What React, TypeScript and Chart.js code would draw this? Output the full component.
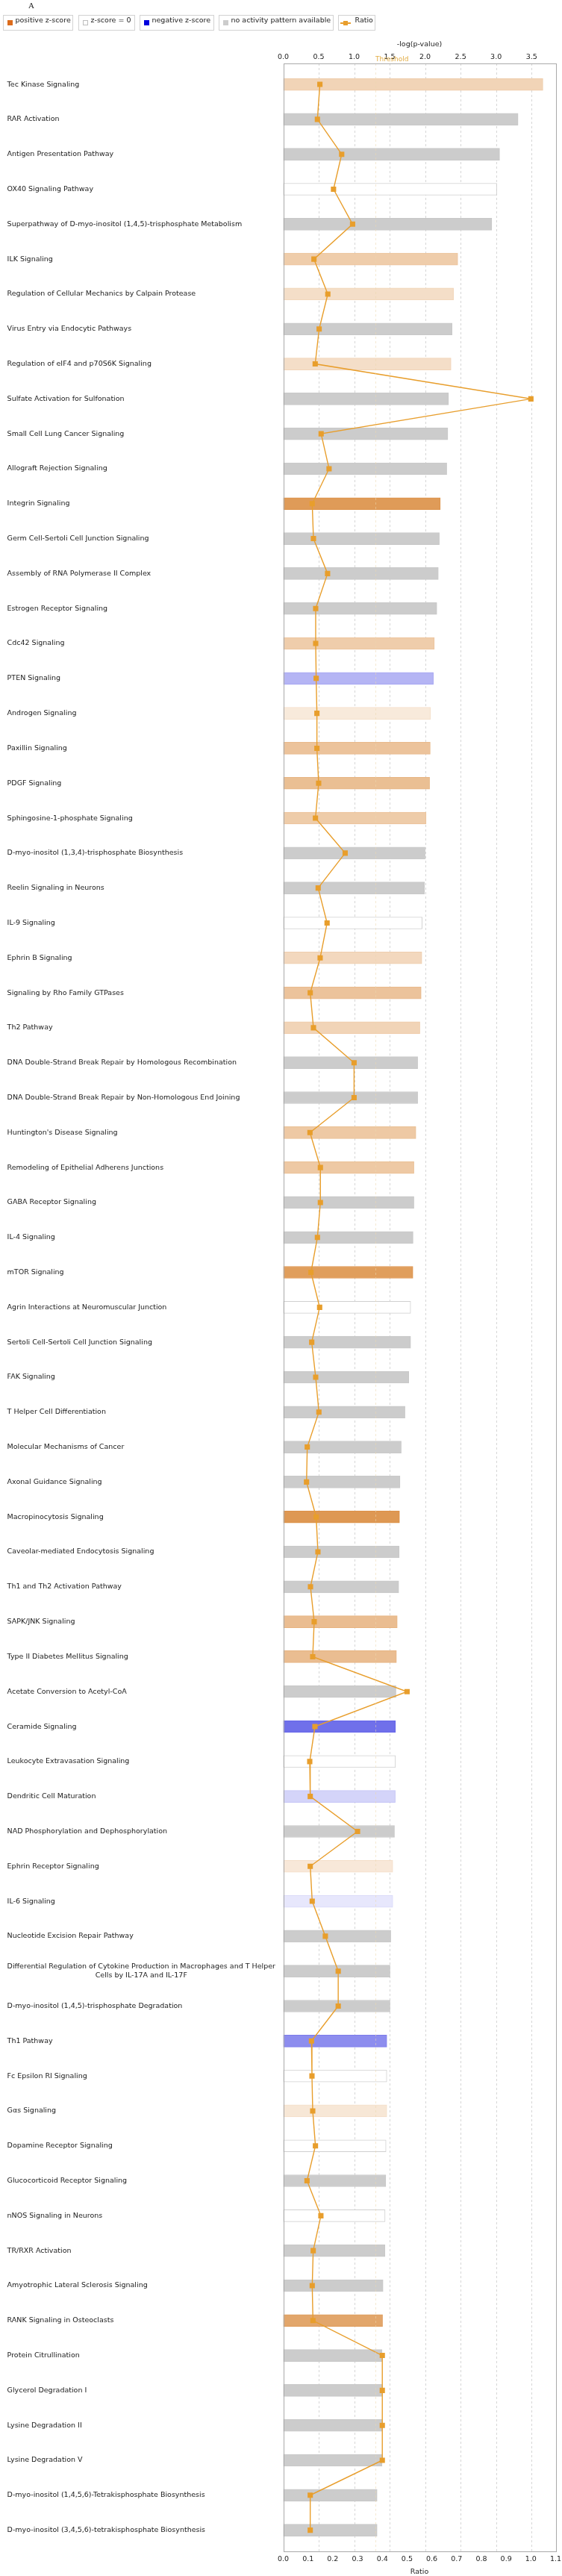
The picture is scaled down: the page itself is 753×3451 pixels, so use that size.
import React, { useEffect, useRef } from "react";
import { Chart, registerables } from "chart.js";

Chart.register(...registerables);

// ---------------- DATA ----------------
const categories: (string | string[])[] = [
  "Tec Kinase Signaling",
  "RAR Activation",
  "Antigen Presentation Pathway",
  "OX40 Signaling Pathway",
  "Superpathway of D-myo-inositol (1,4,5)-trisphosphate Metabolism",
  "ILK Signaling",
  "Regulation of Cellular Mechanics by Calpain Protease",
  "Virus Entry via Endocytic Pathways",
  "Regulation of eIF4 and p70S6K Signaling",
  "Sulfate Activation for Sulfonation",
  "Small Cell Lung Cancer Signaling",
  "Allograft Rejection Signaling",
  "Integrin Signaling",
  "Germ Cell-Sertoli Cell Junction Signaling",
  "Assembly of RNA Polymerase II Complex",
  "Estrogen Receptor Signaling",
  "Cdc42 Signaling",
  "PTEN Signaling",
  "Androgen Signaling",
  "Paxillin Signaling",
  "PDGF Signaling",
  "Sphingosine-1-phosphate Signaling",
  "D-myo-inositol (1,3,4)-trisphosphate Biosynthesis",
  "Reelin Signaling in Neurons",
  "IL-9 Signaling",
  "Ephrin B Signaling",
  "Signaling by Rho Family GTPases",
  "Th2 Pathway",
  "DNA Double-Strand Break Repair by Homologous Recombination",
  "DNA Double-Strand Break Repair by Non-Homologous End Joining",
  "Huntington's Disease Signaling",
  "Remodeling of Epithelial Adherens Junctions",
  "GABA Receptor Signaling",
  "IL-4 Signaling",
  "mTOR Signaling",
  "Agrin Interactions at Neuromuscular Junction",
  "Sertoli Cell-Sertoli Cell Junction Signaling",
  "FAK Signaling",
  "T Helper Cell Differentiation",
  "Molecular Mechanisms of Cancer",
  "Axonal Guidance Signaling",
  "Macropinocytosis Signaling",
  "Caveolar-mediated Endocytosis Signaling",
  "Th1 and Th2 Activation Pathway",
  "SAPK/JNK Signaling",
  "Type II Diabetes Mellitus Signaling",
  "Acetate Conversion to Acetyl-CoA",
  "Ceramide Signaling",
  "Leukocyte Extravasation Signaling",
  "Dendritic Cell Maturation",
  "NAD Phosphorylation and Dephosphorylation",
  "Ephrin Receptor Signaling",
  "IL-6 Signaling",
  "Nucleotide Excision Repair Pathway",
  [
    "Differential Regulation of Cytokine Production in Macrophages and T Helper",
    "Cells by IL-17A and IL-17F",
  ],
  "D-myo-inositol (1,4,5)-trisphosphate Degradation",
  "Th1 Pathway",
  "Fc Epsilon RI Signaling",
  "Gαs Signaling",
  "Dopamine Receptor Signaling",
  "Glucocorticoid Receptor Signaling",
  "nNOS Signaling in Neurons",
  "TR/RXR Activation",
  "Amyotrophic Lateral Sclerosis Signaling",
  "RANK Signaling in Osteoclasts",
  "Protein Citrullination",
  "Glycerol Degradation I",
  "Lysine Degradation II",
  "Lysine Degradation V",
  "D-myo-inositol (1,4,5,6)-Tetrakisphosphate Biosynthesis",
  "D-myo-inositol (3,4,5,6)-tetrakisphosphate Biosynthesis",
];

// -log(p-value)
const negLogP: number[] = [
  3.66, 3.31, 3.05, 3.01, 2.94, 2.46, 2.4, 2.38, 2.365, 2.33, 2.32, 2.305,
  2.214, 2.2, 2.186, 2.165, 2.13, 2.116, 2.075, 2.072, 2.063, 2.014, 2.0, 1.99,
  1.958, 1.954, 1.944, 1.926, 1.895, 1.895, 1.87, 1.842, 1.842, 1.83, 1.828, 1.796,
  1.796, 1.77, 1.716, 1.663, 1.646, 1.639, 1.635, 1.628, 1.607, 1.596, 1.589, 1.582,
  1.582, 1.579, 1.568, 1.544, 1.544, 1.516, 1.505, 1.505, 1.46, 1.46, 1.46, 1.449,
  1.446, 1.436, 1.434, 1.407, 1.4, 1.393, 1.393, 1.393, 1.393, 1.323, 1.323,
];

// Ratio
const ratio: number[] = [
  0.148, 0.138, 0.236, 0.203, 0.28, 0.124, 0.18, 0.145, 0.129, 1.0, 0.153, 0.185,
  0.117, 0.122, 0.179, 0.131, 0.131, 0.133, 0.136, 0.136, 0.143, 0.13, 0.25, 0.141,
  0.177, 0.149, 0.109, 0.122, 0.286, 0.286, 0.108, 0.15, 0.15, 0.138, 0.112, 0.147,
  0.115, 0.131, 0.144, 0.097, 0.094, 0.133, 0.14, 0.11, 0.125, 0.119, 0.5, 0.128,
  0.107, 0.109, 0.3, 0.109, 0.117, 0.17, 0.222, 0.222, 0.114, 0.116, 0.119, 0.13,
  0.096, 0.152, 0.121, 0.117, 0.12, 0.4, 0.4, 0.4, 0.4, 0.109, 0.109,
];

// activity shade: >0 positive z-score (orange intensity),
// <0 negative z-score (blue intensity), 0 = z-score 0, null = no activity pattern
const zShade: (number | null)[] = [
  0.3, null, null, 0, null, 0.35, 0.23, null, 0.23, null, null, null,
  0.7, null, null, null, 0.35, -0.31, 0.15, 0.42, 0.45, 0.36, null, null,
  0, 0.27, 0.42, 0.3, null, null, 0.38, 0.38, null, null, 0.68, 0,
  null, null, null, null, null, 0.72, null, null, 0.46, 0.46, null, -0.6,
  0, -0.18, null, 0.16, -0.1, null, null, null, -0.48, 0, 0.17, 0,
  null, 0, null, null, 0.62, null, null, null, null, null, null,
];

const topTicks: number[] = [0, 0.5, 1.0, 1.5, 2.0, 2.5, 3.0, 3.5];
const ratioTicks: number[] = [0, 0.1, 0.2, 0.3, 0.4, 0.5, 0.6, 0.7, 0.8, 0.9, 1.0, 1.1];
const THRESHOLD = 1.3;

const legendItems = [
  { text: "positive z-score", kind: "pos" },
  { text: "z-score = 0", kind: "zero" },
  { text: "negative z-score", kind: "neg" },
  { text: "no activity pattern available", kind: "none" },
  { text: "Ratio", kind: "ratio" },
];

// ---------------- STYLE ----------------
const FONT = '"DejaVu Sans", "Liberation Sans", sans-serif';
const FS = 9.5;
const ORANGE_BASE = [209, 112, 16];
const BLUE_BASE = [17, 17, 220];
const RATIO_COLOR = "#e89e2c";
const W = 753;
const H = 3451;

function mix(base: number[], t: number) {
  const c = base.map((b) => Math.round(255 - (255 - b) * t));
  return `rgb(${c[0]},${c[1]},${c[2]})`;
}
function fillFor(s: number | null) {
  if (s === null) return "#cccccc";
  if (s === 0) return "#ffffff";
  return mix(s > 0 ? ORANGE_BASE : BLUE_BASE, Math.abs(s));
}
function borderFor(s: number | null) {
  if (s === null) return "#c8c8c8";
  if (s === 0) return "#d0d0d0";
  return mix(s > 0 ? ORANGE_BASE : BLUE_BASE, Math.min(1, Math.abs(s) + 0.07));
}

const overlayPlugin = {
  id: "ipaOverlay",
  beforeDatasetsDraw(chart: any) {
    const { ctx, chartArea } = chart;
    const xs = chart.scales.x;
    ctx.save();
    ctx.strokeStyle = "#d6d6d6";
    ctx.lineWidth = 1;
    ctx.setLineDash([3, 3]);
    topTicks.forEach((v) => {
      if (v === 0) return;
      const px = Math.round(xs.getPixelForValue(v)) + 0.5;
      ctx.beginPath();
      ctx.moveTo(px, chartArea.top);
      ctx.lineTo(px, chartArea.bottom);
      ctx.stroke();
    });
    ctx.restore();
  },
  afterDatasetsDraw(chart: any) {
    const { ctx, chartArea } = chart;
    const xs = chart.scales.x;
    ctx.save();
    const tx = Math.round(xs.getPixelForValue(THRESHOLD)) + 0.5;
    ctx.strokeStyle = "rgba(235,215,175,0.55)";
    ctx.setLineDash([3, 3]);
    ctx.beginPath();
    ctx.moveTo(tx, chartArea.top);
    ctx.lineTo(tx, chartArea.bottom);
    ctx.stroke();
    ctx.setLineDash([]);
    ctx.strokeStyle = "#a9a9a9";
    ctx.lineWidth = 1;
    ctx.strokeRect(
      Math.round(chartArea.left) + 0.5,
      Math.round(chartArea.top) + 0.5,
      Math.round(chartArea.right) - Math.round(chartArea.left),
      Math.round(chartArea.bottom) - Math.round(chartArea.top)
    );
    ctx.restore();
  },
  afterDraw(chart: any) {
    const { ctx } = chart;
    const ys = chart.scales.y;
    const xs = chart.scales.x;
    ctx.save();
    ctx.font = `${FS}px ${FONT}`;
    ctx.fillStyle = "#1a1a1a";
    ctx.textBaseline = "middle";
    const LX = 9.6;
    categories.forEach((lab, i) => {
      const y = ys.getPixelForValue(i);
      if (Array.isArray(lab)) {
        const w = Math.max(...lab.map((l) => ctx.measureText(l).width));
        ctx.textAlign = "center";
        lab.forEach((l, k) => ctx.fillText(l, LX + w / 2, y + (k - (lab.length - 1) / 2) * 11.5));
      } else {
        ctx.textAlign = "left";
        ctx.fillText(lab, LX, y);
      }
    });
    ctx.font = `9px ${FONT}`;
    ctx.fillStyle = "#e2ad45";
    ctx.textAlign = "left";
    ctx.fillText("Threshold", xs.getPixelForValue(THRESHOLD), 80);
    ctx.restore();
  },
};

export default function App() {
  const ref = useRef<HTMLCanvasElement>(null);

  useEffect(() => {
    const barData = negLogP.map((v, i) => ({ x: v, y: i }));
    const lineData = ratio.map((v, i) => ({ x: v, y: i }));
    const tickFont = { family: FONT, size: FS };

    const chart = new Chart(ref.current as HTMLCanvasElement, {
      type: "bar",
      data: {
        datasets: [
          {
            type: "line",
            data: lineData as any,
            xAxisID: "x2",
            yAxisID: "y",
            borderColor: RATIO_COLOR,
            borderWidth: 1.4,
            backgroundColor: RATIO_COLOR,
            pointStyle: "rect",
            pointRadius: 5,
            pointBackgroundColor: RATIO_COLOR,
            pointBorderWidth: 0,
            tension: 0,
            order: 0,
          } as any,
          {
            type: "bar",
            data: barData as any,
            xAxisID: "x",
            yAxisID: "y",
            backgroundColor: zShade.map(fillFor),
            borderColor: zShade.map(borderFor),
            borderWidth: 1,
            borderSkipped: false,
            barThickness: 16,
            order: 1,
          } as any,
        ],
      },
      options: {
        indexAxis: "y",
        responsive: false,
        maintainAspectRatio: false,
        devicePixelRatio: 1,
        animation: false,
        layout: { padding: { left: 0, right: 8.5, top: 0, bottom: 0 } },
        plugins: { legend: { display: false }, tooltip: { enabled: false } },
        scales: {
          x: {
            type: "linear",
            position: "top",
            min: 0,
            max: 3.84,
            offset: false,
            afterBuildTicks: (s: any) => {
              s.ticks = topTicks.map((v) => ({ value: v }));
            },
            afterFit: (s: any) => {
              s.height = 85;
              s.paddingLeft = 0;
              s.paddingRight = 0;
            },
            ticks: {
              callback: (v: any) => Number(v).toFixed(1),
              font: tickFont,
              color: "#222",
              padding: 3,
              maxRotation: 0,
              autoSkip: false,
            },
            grid: { display: false, drawTicks: false },
            border: { display: false },
            title: {
              display: true,
              text: "-log(p-value)",
              font: tickFont,
              color: "#222",
              padding: { top: 54, bottom: 0 },
            },
          },
          x2: {
            type: "linear",
            axis: "x",
            position: "bottom",
            min: 0,
            max: 1.1,
            offset: false,
            afterBuildTicks: (s: any) => {
              s.ticks = ratioTicks.map((v) => ({ value: v }));
            },
            afterFit: (s: any) => {
              s.height = 33.3;
              s.paddingLeft = 0;
              s.paddingRight = 0;
            },
            ticks: {
              callback: (v: any) => Number(v).toFixed(1),
              font: tickFont,
              color: "#222",
              padding: 5,
              maxRotation: 0,
              autoSkip: false,
            },
            grid: { display: false, drawTicks: false },
            border: { display: false },
            title: {
              display: true,
              text: "Ratio",
              font: tickFont,
              color: "#222",
              padding: { top: 0, bottom: 0 },
            },
          },
          y: {
            type: "linear",
            position: "left",
            reverse: true,
            min: -0.6,
            max: 70.6,
            offset: false,
            grace: 0,
            afterFit: (s: any) => {
              s.width = 379.5;
              s.paddingTop = 0;
              s.paddingBottom = 0;
            },
            ticks: { display: false },
            grid: { display: false, drawTicks: false, offset: false },
            border: { display: false },
          },
        },
      } as any,
      plugins: [overlayPlugin],
    });
    return () => chart.destroy();
  }, []);

  const boxes = [
    { left: 4, width: 94 },
    { left: 105, width: 76 },
    { left: 187, width: 100 },
    { left: 293, width: 154 },
    { left: 453, width: 50 },
  ];

  return (
    <div
      style={{
        position: "absolute",
        left: 0,
        top: 0,
        width: W,
        height: H,
        background: "#fff",
        overflow: "hidden",
      }}
    >
      <canvas
        ref={ref}
        width={W}
        height={H}
        style={{ position: "absolute", left: 0, top: 0, width: W, height: H }}
      />
      <div
        style={{
          position: "absolute",
          left: 38,
          top: 0,
          font: '11px "Liberation Serif", serif',
          lineHeight: "14px",
          color: "#222",
        }}
      >
        A
      </div>
      {legendItems.map((it, i) => {
        const b = boxes[i];
        const swatch =
          it.kind === "ratio" ? (
            <div style={{ position: "absolute", left: 2, top: 0, width: 14, height: 19 }}>
              <div
                style={{
                  position: "absolute",
                  left: 0,
                  top: 9,
                  width: 14,
                  height: 1.5,
                  background: RATIO_COLOR,
                }}
              />
              <div
                style={{
                  position: "absolute",
                  left: 4,
                  top: 6.5,
                  width: 6,
                  height: 6,
                  background: RATIO_COLOR,
                }}
              />
            </div>
          ) : (
            <div
              style={{
                position: "absolute",
                left: 4.5,
                top: 6,
                width: 7,
                height: 7,
                boxSizing: "border-box",
                background:
                  it.kind === "pos"
                    ? "#dc6c1c"
                    : it.kind === "neg"
                    ? "#0000dd"
                    : it.kind === "none"
                    ? "#cccccc"
                    : "#ffffff",
                border: it.kind === "zero" ? "1px solid #bdbdbd" : "none",
              }}
            />
          );
        return (
          <div
            key={i}
            style={{
              position: "absolute",
              left: b.left,
              top: 20,
              width: b.width,
              height: 21,
              boxSizing: "border-box",
              border: "1px solid #d2d2d2",
              background: "#fff",
            }}
          >
            {swatch}
            <div
              style={{
                position: "absolute",
                left: it.kind === "ratio" ? 21.5 : 15.5,
                top: 0,
                height: 19,
                lineHeight: "19px",
                font: `${FS}px ${FONT}`,
                color: "#222",
                whiteSpace: "nowrap",
              }}
            >
              {it.text}
            </div>
          </div>
        );
      })}
    </div>
  );
}
